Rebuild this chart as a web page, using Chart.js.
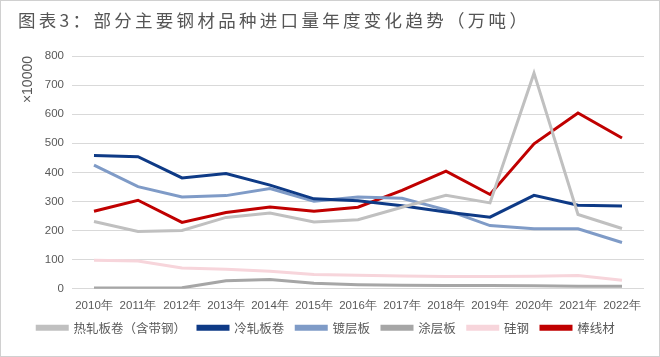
<!DOCTYPE html>
<html><head><meta charset="utf-8">
<script src="https://cdn.jsdelivr.net/npm/chart.js@4/dist/chart.umd.min.js"></script>
<style>
html,body{margin:0;padding:0;background:#fff;}
#wrap{position:relative;width:660px;height:357px;overflow:hidden;box-sizing:border-box;border:1px solid #d0d0d0;}
#title{position:absolute;left:17px;top:6px;line-height:26px;font-family:"Noto Sans CJK SC",sans-serif;font-size:17.5px;color:#555;letter-spacing:3.3px;white-space:nowrap;}
#c{position:absolute;left:0;top:0;}
</style></head><body>
<div id="wrap">
<canvas id="c" width="658" height="355"></canvas>
<div id="title">图表3：部分主要钢材品种进口量年度变化趋势（万吨）</div>
</div>
<script>
const categories = ["2010年","2011年","2012年","2013年","2014年","2015年","2016年","2017年","2018年","2019年","2020年","2021年","2022年"];
const hotRolled   = [231,197,200,245,260,229,237,280,321,295,741,255,207];
const coldRolled  = [458,454,381,396,356,309,302,285,264,246,321,287,284];
const coated      = [425,351,315,320,344,301,315,311,271,217,206,206,159];
const painted     = [2,2,3,27,32,19,14,12,11,11,10,8,8];
const silicon     = [98,95,71,67,60,49,46,44,42,42,43,45,29];
const wireRod     = [266,304,228,262,281,266,280,338,404,324,498,604,518];
const yTicks = [0,100,200,300,400,500,600,700,800];

function ds(label, data, color){
  return {label, data, borderColor: color, backgroundColor: color, borderWidth: 3, pointRadius: 0, tension: 0, fill: false};
}
const legendShift = {
  id: 'legendShift',
  afterLayout(chart){
    const lg = chart.legend;
    if (lg) { lg.top -= 5; lg.bottom -= 5; lg.left -= 6; lg.right -= 6; }
  }
};
new Chart(document.getElementById('c'), {
  type: 'line',
  data: {
    labels: categories,
    datasets: [
      ds("热轧板卷（含带钢）", hotRolled, "#c0c0c0"),
      ds("冷轧板卷", coldRolled, "#0e3a86"),
      ds("镀层板", coated, "#7f9bc7"),
      ds("涂层板", painted, "#a6a6a6"),
      ds("硅钢", silicon, "#f7d5db"),
      ds("棒线材", wireRod, "#c00000")
    ]
  },
  plugins: [legendShift],
  options: {
    responsive: false,
    animation: false,
    layout: {padding: {top: 55, right: 15, left: 19, bottom: 7}},
    plugins: {
      title: {display: false},
      tooltip: {enabled: false},
      legend: {
        position: 'bottom',
        labels: {
          boxWidth: 30, boxHeight: 3, padding: 12,
          color: '#595959',
          font: {family: '"Noto Sans CJK SC", sans-serif', size: 12.5}
        }
      }
    },
    scales: {
      x: {
        offset: true,
        grid: {display: false},
        border: {display: false},
        ticks: {color: '#595959', font: {family: '"Liberation Sans", sans-serif', size: 11.5}, maxRotation: 0, autoSkip: false, padding: 2}
      },
      y: {
        min: 0, max: 800,
        afterBuildTicks: (axis) => { axis.ticks = yTicks.map(v => ({value: v})); },
        grid: {color: '#d9d9d9', lineWidth: 1, drawTicks: false},
        border: {display: false},
        ticks: {color: '#595959', font: {family: '"Liberation Sans", sans-serif', size: 11.5}, padding: 8},
        title: {display: true, text: '×10000', align: 'end', color: '#595959', font: {family: '"Liberation Sans", sans-serif', size: 14}, padding: {top: 0, bottom: 0}}
      }
    }
  }
});
</script>
</body></html>
